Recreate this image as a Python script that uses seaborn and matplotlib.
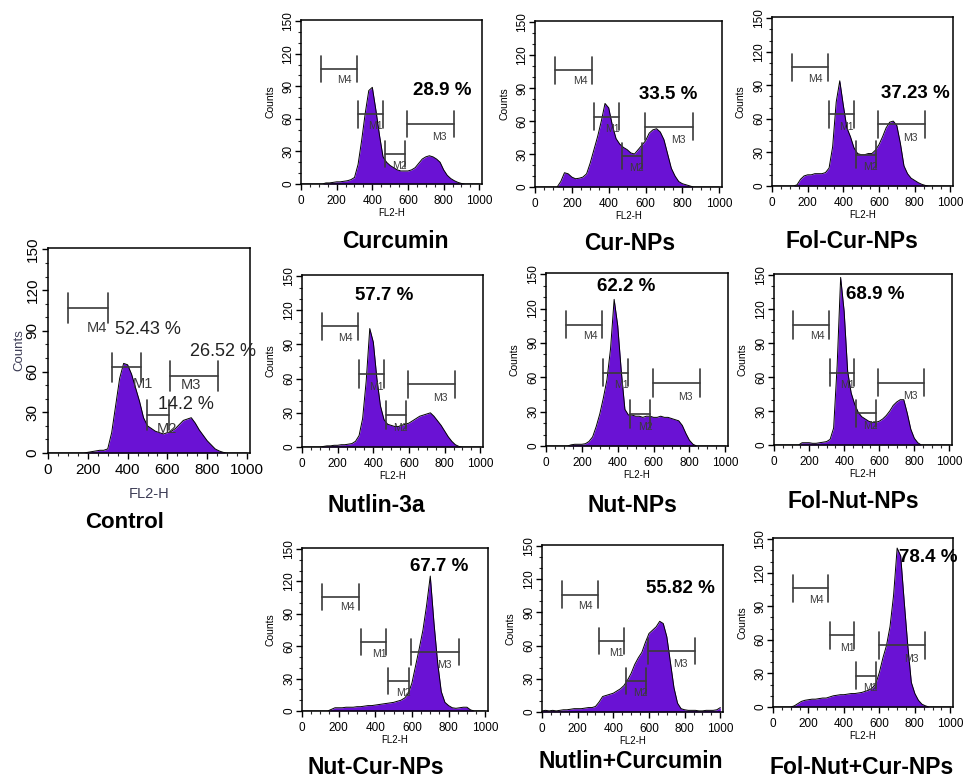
import numpy as np
import pandas as pd
import matplotlib
matplotlib.use("Agg")
import matplotlib.pyplot as plt
import seaborn as sns
from matplotlib.ticker import MultipleLocator

sns.set_style("ticks")
plt.rcParams["font.family"] = ["Liberation Sans", "DejaVu Sans"]

W, H = 965, 779
FILL = "#6a12d4"
GATE = "#3a3a3a"

# FL2-H channel (bin centre, every 20 channels)
channels = np.arange(0, 1001, 20)

# cell counts per channel bin
counts_control = [0, 0, 0, 0, 0, 0, 0, 0, 0, 0,
                  0.5, 1, 1.5, 2, 2, 3, 15, 35, 55, 66,
                  65, 58, 48, 38, 26, 20, 18, 16, 15, 14,
                  15, 16, 18, 21, 24, 25, 26, 22, 17, 13,
                  9, 6, 3, 1.5, 0.5, 0, 0, 0, 0, 0, 0]
counts_curcumin = [0, 0, 0, 0, 0, 0, 0, 1, 1, 1.5,
                   2, 2, 2.5, 3, 4, 6, 18, 40, 65, 86,
                   89, 68, 45, 25, 20, 17, 15, 13, 12, 12,
                   12, 13, 15, 19, 23, 25, 26, 25, 23, 20,
                   13, 8, 5, 3, 1.5, 0.5, 0, 0, 0, 0, 0]
counts_cur_nps = [0, 0, 0, 0, 0, 0, 0, 5, 13, 12,
                  9, 7.5, 8, 9, 12, 22, 34, 46, 60, 76,
                  72, 56, 44, 39, 36, 34, 31, 30, 34, 38,
                  42, 49, 52, 53, 50, 43, 30, 17, 10, 5,
                  3, 2, 1, 0, 0, 0, 0, 0, 0, 0, 0]
counts_fol_cur_nps = [0, 0, 0, 0, 0, 0, 0, 1, 6, 9,
                      10, 10, 11, 11, 11, 12, 16, 35, 75, 94,
                      72, 52, 44, 34, 29, 28, 28, 29, 29, 32,
                      37, 44, 52, 57, 58, 54, 38, 18, 11, 7,
                      5, 3, 1.5, 0.5, 0, 0, 0, 0, 0, 0, 0]
counts_nutlin = [0, 0, 0, 0, 0, 0, 0.5, 1, 1, 1.5,
                 1.5, 2, 2, 2.5, 3, 5, 10, 25, 58, 104,
                 92, 60, 36, 24, 20, 19, 18, 18, 19, 20,
                 21, 23, 25, 27, 28, 29, 30, 27, 23, 19,
                 14, 9, 5, 2, 0.5, 0, 0, 0, 0, 0, 0]
counts_nut_nps = [0, 0, 0, 0, 0, 0, 0, 1, 1.5, 1.5,
                  1.5, 2, 4, 8, 17, 28, 42, 58, 85, 128,
                  105, 65, 32, 27, 27, 26, 26, 25, 26, 26,
                  25, 25, 26, 25, 25, 24, 23, 22, 18, 11,
                  5, 1.5, 0, 0, 0, 0, 0, 0, 0, 0, 0]
counts_fol_nut_nps = [0, 0, 0, 0, 0, 0, 0, 0, 2, 2,
                      2, 1.5, 1.5, 2, 2.5, 3, 5, 15, 70, 148,
                      118, 65, 46, 36, 29, 25, 23, 21, 20, 20,
                      21, 23, 26, 30, 35, 38, 40, 40, 28, 14,
                      6, 2, 0, 0, 0, 0, 0, 0, 0, 0, 0]
counts_nut_cur_nps = [0, 0, 0, 0, 0, 0, 0, 0, 1.5, 3,
                      3, 3, 3.5, 3.5, 3.5, 4, 4, 4.5, 5, 5,
                      5.5, 6, 6.5, 7, 7.5, 8, 9, 10, 12, 16,
                      26, 42, 58, 75, 98, 125, 82, 45, 18, 8,
                      5, 3, 2.5, 3, 3.5, 3.5, 1, 0, 0, 0, 0]
counts_nutlin_curcumin = [1, 1.5, 1, 1.5, 1, 1.5, 2, 2, 2.5, 3,
                          3, 3, 3.5, 4, 4, 5, 9, 14, 15, 16,
                          17, 19, 21, 24, 29, 35, 43, 49, 54, 63,
                          71, 74, 77, 82, 80, 68, 45, 22, 8, 3,
                          2, 1.5, 1.5, 1.5, 1, 1, 1.5, 1.5, 1.5, 2, 4]
counts_fol_nut_cur_nps = [0, 0, 0, 0, 0, 0, 1, 3, 5, 6,
                          6.5, 7, 7, 7.5, 8, 8, 9, 10, 10.5, 11,
                          11, 11.5, 12, 12, 12.5, 13, 14, 15, 17, 21,
                          31, 44, 55, 72, 100, 142, 135, 94, 55, 22,
                          12, 6, 2.5, 1, 0, 0, 0, 0, 0, 0, 0]

# marker gates M4, M1, M2, M3: (low channel, high channel, counts level)
gate_names = ["M4", "M1", "M2", "M3"]
gate_lo = [110, 320, 470, 595]
gate_hi = [312, 458, 582, 858]
gate_level = [106, 64, 28, 55]
gate_label_x = [245, 420, 552, 778]
gate_label_y = [96, 53, 17, 43]
control_gate_lo = [100, 323, 496, 613]
control_gate_hi = [300, 466, 610, 852]
control_gate_level = [107, 63, 28, 57]
control_gate_label_x = [244, 475, 597, 718]
control_gate_label_y = [92, 51, 18, 50]

x_ticks = [0, 200, 400, 600, 800, 1000]
y_ticks = [0, 30, 60, 90, 120, 150]

# panel layout: title, counts, axes box (l, t, r, b in px), title centre (px), percentage labels
panels = [
    ("Control", counts_control, (48, 248, 250, 453), (125, 522),
     [("52.43 %", 336, 91), ("26.52 %", 714, 75), ("14.2 %", 555, 36)]),
    ("Curcumin", counts_curcumin, (301, 20, 482, 184), (395, 241), [("28.9 %", 628, 86)]),
    ("Cur-NPs", counts_cur_nps, (535, 21, 722, 187), (630, 243), [("33.5 %", 564, 84)]),
    ("Fol-Cur-NPs", counts_fol_cur_nps, (772, 17, 953, 186), (852, 242), [("37.23 %", 613, 83)]),
    ("Nutlin-3a", counts_nutlin, (302, 275, 483, 447), (376, 506), [("57.7 %", 297, 133)]),
    ("Nut-NPs", counts_nut_nps, (546, 273, 728, 446), (632, 505), [("62.2 %", 287, 139)]),
    ("Fol-Nut-NPs", counts_fol_nut_nps, (774, 274, 952, 445), (853, 501), [("68.9 %", 408, 133)]),
    ("Nut-Cur-NPs", counts_nut_cur_nps, (302, 548, 488, 711), (376, 767), [("67.7 %", 589, 134)]),
    ("Nutlin+Curcumin", counts_nutlin_curcumin, (542, 545, 723, 712), (631, 761), [("55.82 %", 586, 112)]),
    ("Fol-Nut+Cur-NPs", counts_fol_nut_cur_nps, (773, 538, 953, 707), (862, 767), [("78.4 %", 713, 134)]),
]

fig = plt.figure(figsize=(W / 100, H / 100), dpi=100)
fig.patch.set_facecolor("white")

for title, counts, box, title_xy, pct_labels in panels:
    assert len(counts) == len(channels)
    big = title == "Control"
    l, t, r, b = box
    wpx, hpx = r - l, b - t
    ax = fig.add_axes([l / W, 1 - b / H, wpx / W, hpx / H])
    df = pd.DataFrame({"FL2-H": channels, "Counts": counts})
    ax.fill_between(df["FL2-H"], df["Counts"], 0, color=FILL, lw=0, zorder=2)
    sns.lineplot(data=df, x="FL2-H", y="Counts", ax=ax, color="black", lw=0.7, zorder=3)

    ax.set_xlim(0, 1015)
    ax.set_ylim(0, 151)
    ax.set_xticks(x_ticks)
    ax.set_yticks(y_ticks)
    ax.xaxis.set_minor_locator(MultipleLocator(50))
    ax.yaxis.set_minor_locator(MultipleLocator(10))
    for s in ax.spines.values():
        s.set_linewidth(1.1)
        s.set_color("black")

    tick_fs = 11 if big else 8.5
    lab_fs = 10.5 if big else 7
    cnt_fs = 9.5 if big else 7.5
    lab_color = "#3c3c55" if big else "black"
    ax.tick_params(axis="both", which="major", direction="out", length=4, width=1,
                   labelsize=tick_fs, colors="black")
    ax.tick_params(axis="both", which="minor", direction="out", length=2.2, width=0.8)
    ax.tick_params(axis="x", pad=3 if big else 4)
    ax.tick_params(axis="y", pad=2 if big else 1)
    for lab in ax.get_yticklabels():
        lab.set_rotation(90)
        lab.set_va("center")

    ax.set_xlabel("FL2-H", fontsize=lab_fs, color=lab_color)
    ax.set_ylabel("Counts", fontsize=cnt_fs, color=lab_color)
    xl_off = 41 if big else 29
    yl_off = 29 if big else 31
    ax.xaxis.set_label_coords(0.5, -xl_off / hpx)
    ax.xaxis.label.set_va("center")
    ax.yaxis.set_label_coords(-yl_off / wpx, 0.5)
    ax.yaxis.label.set_va("center")

    # marker gates
    if big:
        lo, hi, lv = control_gate_lo, control_gate_hi, control_gate_level
        lx, ly = control_gate_label_x, control_gate_label_y
        half, gfs = 11, 10.5
    else:
        lo, hi, lv = gate_lo, gate_hi, gate_level
        lx, ly = gate_label_x, gate_label_y
        half, gfs = 12, 7.5
    for name, g0, g1, gy, tx, ty in zip(gate_names, lo, hi, lv, lx, ly):
        ax.plot([g0, g1], [gy, gy], color=GATE, lw=1.2, zorder=4)
        ax.plot([g0, g0], [gy - half, gy + half], color=GATE, lw=1.2, zorder=4)
        ax.plot([g1, g1], [gy - half, gy + half], color=GATE, lw=1.2, zorder=4)
        ax.text(tx, ty, name, fontsize=gfs, color=GATE, ha="center", va="center", zorder=5)

    for txt, px, py in pct_labels:
        if big:
            ax.text(px, py, txt, fontsize=13, color="#222222", ha="left", va="center", zorder=6)
        else:
            ax.text(px, py, txt, fontsize=13.5, fontweight="bold", color="black",
                    ha="left", va="center", zorder=6)

    fig.text(title_xy[0] / W, 1 - title_xy[1] / H, title,
             fontsize=16 if big else 16.5, fontweight="bold",
             ha="center", va="center", color="black")

fig.savefig("out.png", dpi=100, facecolor="white")
